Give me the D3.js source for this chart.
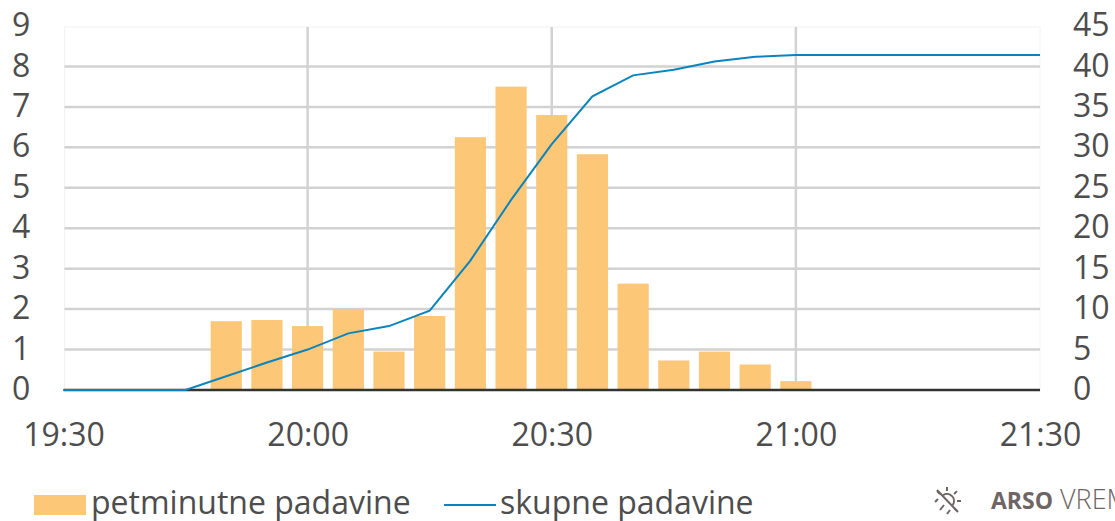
<!DOCTYPE html>
<html>
<head>
<meta charset="utf-8">
<script src="https://cdn.jsdelivr.net/npm/d3@7"></script>
<style>
  html, body { margin: 0; padding: 0; background: #fff; overflow: hidden; }
  text { font-family: "Open Sans", sans-serif; fill: #4d4d4d; }
</style>
</head>
<body>
<div id="chart"></div>
<script>
// five minute rain
const barTimes = ["19:50", "19:55", "20:00", "20:05", "20:10", "20:15", "20:20", "20:25", "20:30", "20:35", "20:40", "20:45", "20:50", "20:55", "21:00"];
const barValues = [1.7, 1.73, 1.58, 2.0, 0.95, 1.83, 6.25, 7.5, 6.8, 5.83, 2.63, 0.73, 0.95, 0.63, 0.22];

// total rain
const lineTimes = ["19:30", "19:45", "19:50", "19:55", "20:00", "20:05", "20:10", "20:15", "20:20", "20:25", "20:30", "20:35", "20:40", "20:45", "20:50", "20:55", "21:00", "21:30"];
const lineValues = [0, 0, 1.7, 3.4, 5.0, 7.0, 7.9, 9.8, 16.0, 23.5, 30.4, 36.3, 38.9, 39.6, 40.6, 41.2, 41.4, 41.4];

const leftTicks = [0, 1, 2, 3, 4, 5, 6, 7, 8, 9];
const rightTicks = [0, 5, 10, 15, 20, 25, 30, 35, 40, 45];
const timeTicks = ["19:30", "20:00", "20:30", "21:00", "21:30"];
const legendBar = "petminutne padavine";
const legendLine = "skupne padavine";

const width = 1115, height = 521;
const margin = {top: 26, right: 75, bottom: 131, left: 63.5};

const parseTime = d3.timeParse("%H:%M");
const formatTime = d3.timeFormat("%H:%M");

const svg = d3.select("#chart")
  .append("svg")
    .attr("width", width)
    .attr("height", height)
    .style("display", "block");

const x = d3.scaleTime()
  .domain([parseTime("19:30"), parseTime("21:30")])
  .range([margin.left, width - margin.right]);

const yLeft = d3.scaleLinear()
  .domain([0, 9])
  .range([height - margin.bottom, margin.top]);

const yRight = d3.scaleLinear()
  .domain([0, 45])
  .range([height - margin.bottom, margin.top]);

// plot frame
svg.append("rect")
  .attr("x", x.range()[0] + 1)
  .attr("y", margin.top + 1)
  .attr("width", x.range()[1] - x.range()[0] - 1)
  .attr("height", height - margin.bottom - margin.top - 1)
  .style("fill", "none")
  .style("stroke", "#f2f2f2")
  .style("stroke-width", 1);

// grid
svg.append("g")
  .selectAll("line")
  .data(leftTicks.filter(d => d > 0 && d < 9))
  .join("line")
    .attr("x1", x.range()[0] + 1)
    .attr("x2", x.range()[1])
    .attr("y1", d => yLeft(d))
    .attr("y2", d => yLeft(d))
    .style("stroke", "#d2d2d2")
    .style("stroke-width", 2.5);

svg.append("g")
  .selectAll("line")
  .data(timeTicks.slice(1, 4))
  .join("line")
    .attr("x1", d => x(parseTime(d)))
    .attr("x2", d => x(parseTime(d)))
    .attr("y1", margin.top + 1)
    .attr("y2", height - margin.bottom)
    .style("stroke", "#d2d2d2")
    .style("stroke-width", 2.5);

// bars
const barWidth = x(parseTime("19:55")) - x(parseTime("19:50")) - 9.5;
svg.append("g")
  .selectAll("rect")
  .data(barTimes)
  .join("rect")
    .attr("x", d => x(parseTime(d)) - barWidth / 2)
    .attr("y", (d, i) => yLeft(barValues[i]))
    .attr("width", barWidth)
    .attr("height", (d, i) => yLeft(0) - yLeft(barValues[i]))
    .style("fill", "#fdc778");

// baseline
svg.append("line")
  .attr("x1", x.range()[0])
  .attr("x2", x.range()[1])
  .attr("y1", yLeft(0))
  .attr("y2", yLeft(0))
  .style("stroke", "#333333")
  .style("stroke-width", 2.5);

// total line
const line = d3.line()
  .x(d => x(parseTime(d[0])))
  .y(d => yRight(d[1]));

svg.append("path")
  .attr("d", line(lineTimes.map((t, i) => [t, lineValues[i]])))
  .style("fill", "none")
  .style("stroke", "#0a84bd")
  .style("stroke-width", 2);

// axes
const axisLeft = svg.append("g")
  .attr("transform", `translate(${margin.left},0)`)
  .call(d3.axisLeft(yLeft).tickValues(leftTicks).tickSize(0).tickPadding(0));

const axisRight = svg.append("g")
  .attr("transform", `translate(${x.range()[1]},0)`)
  .call(d3.axisRight(yRight).tickValues(rightTicks).tickSize(0).tickPadding(0));

const axisBottom = svg.append("g")
  .attr("transform", `translate(0,${height - margin.bottom})`)
  .call(d3.axisBottom(x).tickValues(timeTicks.map(parseTime)).tickFormat(formatTime).tickSize(0).tickPadding(0));

[axisLeft, axisRight, axisBottom].forEach(a => {
  a.select(".domain").remove();
  a.selectAll("text")
    .style("font-family", '"Open Sans", sans-serif')
    .style("font-size", "32px")
    .style("fill", "#4d4d4d");
});
axisLeft.selectAll("text").attr("x", -51.5).attr("text-anchor", "start").attr("dy", "0.3em");
axisRight.selectAll("text").attr("x", 33).attr("dy", "0.3em");
axisBottom.selectAll("text").attr("y", 33);

// legend
const legend = svg.append("g");
legend.append("rect")
  .attr("x", 34)
  .attr("y", 495)
  .attr("width", 52)
  .attr("height", 20)
  .style("fill", "#fdc778");
legend.append("text")
  .attr("x", 91)
  .attr("y", 514)
  .style("font-size", "32px")
  .text(legendBar);
legend.append("line")
  .attr("x1", 444)
  .attr("x2", 496)
  .attr("y1", 505)
  .attr("y2", 505)
  .style("stroke", "#0a84bd")
  .style("stroke-width", 2);
legend.append("text")
  .attr("x", 500)
  .attr("y", 514)
  .style("font-size", "32px")
  .text(legendLine);

// logo
const logo = svg.append("g")
  .attr("transform", "translate(947,501)")
  .style("stroke", "#6e6666")
  .style("fill", "none")
  .style("stroke-width", 2);
logo.append("path").attr("d", d3.arc()({innerRadius: 7, outerRadius: 7, startAngle: -0.6, endAngle: 2.2}));
logo.selectAll("line.ray")
  .data([-45, 0, 45, 90, 135])
  .join("line")
    .attr("x1", 0).attr("x2", 0).attr("y1", -10).attr("y2", -14)
    .attr("transform", d => `rotate(${d})`);
logo.append("line").attr("x1", -10).attr("y1", -11).attr("x2", 11).attr("y2", 11);
logo.append("line").attr("x1", -12).attr("y1", 1).attr("x2", -9).attr("y2", -2);
logo.append("line").attr("x1", -7).attr("y1", 9).attr("x2", -3).attr("y2", 4);
logo.append("line").attr("x1", 0).attr("y1", 13).attr("x2", 3).attr("y2", 9);

const logoText = svg.append("text")
  .attr("x", 991)
  .attr("y", 509)
  .style("font-size", "23px")
  .style("font-family", '"Open Sans", sans-serif');
logoText.append("tspan").style("font-weight", 700).style("fill", "#6e6666").text("ARSO");
logoText.append("tspan").attr("dx", 7).style("font-weight", 300).style("font-size", "27px").style("fill", "#6e6666").text("VREME");
</script>
</body>
</html>
